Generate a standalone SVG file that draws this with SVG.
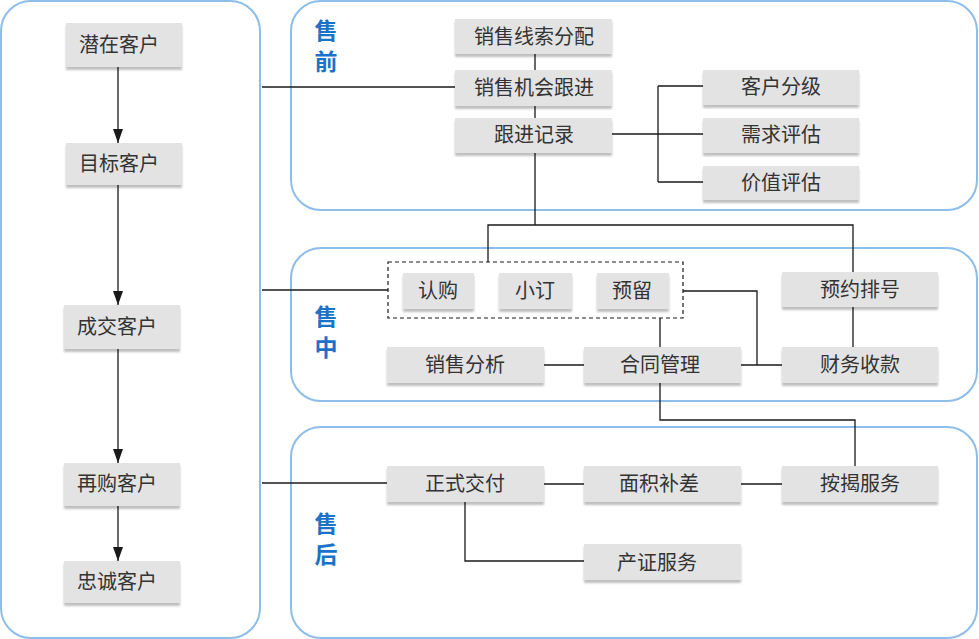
<svg xmlns="http://www.w3.org/2000/svg" width="979" height="639" viewBox="0 0 979 639">
<defs>
<filter id="sh" x="-10%" y="-20%" width="120%" height="150%">
<feDropShadow dx="0" dy="3" stdDeviation="1.2" flood-color="#000" flood-opacity="0.25"/>
</filter>
<marker id="arr" viewBox="0 0 14 10" refX="14" refY="5" markerWidth="14" markerHeight="10" markerUnits="userSpaceOnUse" orient="auto">
<path d="M0,0 L14,5 L0,10 z" fill="#1a1a1a"/>
</marker>
<style>
.panel{fill:#fff;stroke:#8dbde9;stroke-width:2}
.node rect{fill:#e3e3e3;filter:url(#sh)}
.node text{font-family:"Noto Sans CJK SC","Noto Sans",sans-serif;font-size:20px;fill:#333;text-anchor:middle;dominant-baseline:central}
.lbl{font-family:"Noto Sans CJK SC","Noto Sans",sans-serif;font-size:23px;font-weight:bold;fill:#1a73c8;text-anchor:middle;dominant-baseline:central}
.ln{fill:none;stroke:#1a1a1a;stroke-width:1.3}
</style>
</defs>
<rect width="979" height="639" fill="#fff"/>
<g id="panels">
<rect class="panel" x="1" y="1" width="259" height="637" rx="30"/>
<rect class="panel" x="291" y="1" width="686" height="209" rx="30"/>
<rect class="panel" x="291" y="248" width="686" height="153" rx="30"/>
<rect class="panel" x="291" y="427" width="686" height="211" rx="30"/>
<text class="lbl" x="326" y="29">售</text>
<text class="lbl" x="326" y="60">前</text>
<text class="lbl" x="326" y="315">售</text>
<text class="lbl" x="326" y="346">中</text>
<text class="lbl" x="326" y="522">售</text>
<text class="lbl" x="326" y="553">后</text>
</g>
<g id="connectors">
<path class="ln" d="M118,67 V143" marker-end="url(#arr)"/>
<path class="ln" d="M118,185 V305" marker-end="url(#arr)"/>
<path class="ln" d="M118,349 V463" marker-end="url(#arr)"/>
<path class="ln" d="M118,506 V561" marker-end="url(#arr)"/>
<path class="ln" d="M262,87 H455"/>
<path class="ln" d="M262,290 H388"/>
<path class="ln" d="M262,483 H387"/>
<path class="ln" d="M535,54 V70 M535,106 V118 M535,153 V225"/>
<path class="ln" d="M612,134 H703 M658,86 V182 M658,86 H703 M658,182 H703"/>
<path class="ln" d="M488,262 V225 H853 V272"/>
<rect x="388" y="262" width="295" height="56" fill="none" stroke="#1a1a1a" stroke-width="1.2" stroke-dasharray="4,3"/>
<path class="ln" d="M683,291 H757 V365"/>
<path class="ln" d="M544,365 H584 M741,365 H782"/>
<path class="ln" d="M853,307 V347"/>
<path class="ln" d="M660,318 V347"/>
<path class="ln" d="M660,383 V420 H855 V466"/>
<path class="ln" d="M544,484 H584 M741,484 H782"/>
<path class="ln" d="M465,502 V561 H584"/>
</g>
<g id="n-qianzai" class="node"><rect x="66" y="23" width="116" height="44"/><text x="119" y="43">潜在客户</text></g>
<g id="n-mubiao" class="node"><rect x="66" y="143" width="116" height="42"/><text x="119" y="162">目标客户</text></g>
<g id="n-chengjiao" class="node"><rect x="64" y="305" width="116" height="44"/><text x="117" y="325">成交客户</text></g>
<g id="n-zaigou" class="node"><rect x="64" y="463" width="116" height="43"/><text x="117" y="482">再购客户</text></g>
<g id="n-zhongcheng" class="node"><rect x="64" y="561" width="116" height="42"/><text x="117" y="580">忠诚客户</text></g>
<g id="n-xiansuo" class="node"><rect x="455" y="19" width="157" height="35"/><text x="534" y="35.5">销售线索分配</text></g>
<g id="n-jihui" class="node"><rect x="455" y="70" width="157" height="36"/><text x="534" y="86.5">销售机会跟进</text></g>
<g id="n-jilu" class="node"><rect x="455" y="118" width="157" height="35"/><text x="534" y="133.5">跟进记录</text></g>
<g id="n-fenji" class="node"><rect x="703" y="70" width="156" height="35"/><text x="781" y="85.5">客户分级</text></g>
<g id="n-xuqiu" class="node"><rect x="703" y="118" width="156" height="35"/><text x="781" y="133.5">需求评估</text></g>
<g id="n-jiazhi" class="node"><rect x="703" y="166" width="156" height="34"/><text x="781" y="181.5">价值评估</text></g>
<g id="n-rengou" class="node"><rect x="403" y="273" width="71" height="36"/><text x="438" y="289.5">认购</text></g>
<g id="n-xiaoding" class="node"><rect x="499" y="273" width="73" height="36"/><text x="535" y="289.5">小订</text></g>
<g id="n-yuliu" class="node"><rect x="597" y="273" width="72" height="36"/><text x="632" y="289.5">预留</text></g>
<g id="n-paihao" class="node"><rect x="782" y="272" width="156" height="35"/><text x="860" y="288.5">预约排号</text></g>
<g id="n-fenxi" class="node"><rect x="387" y="347" width="157" height="36"/><text x="465" y="363.5">销售分析</text></g>
<g id="n-hetong" class="node"><rect x="584" y="347" width="157" height="36"/><text x="660" y="363.5">合同管理</text></g>
<g id="n-shoukuan" class="node"><rect x="782" y="347" width="156" height="36"/><text x="860" y="363.5">财务收款</text></g>
<g id="n-jiaofu" class="node"><rect x="387" y="466" width="157" height="36"/><text x="465" y="482.5">正式交付</text></g>
<g id="n-buchai" class="node"><rect x="584" y="466" width="157" height="36"/><text x="659" y="482.5">面积补差</text></g>
<g id="n-anjie" class="node"><rect x="782" y="466" width="156" height="36"/><text x="860" y="482.5">按揭服务</text></g>
<g id="n-chanzheng" class="node"><rect x="584" y="544" width="157" height="36"/><text x="657" y="561.5">产证服务</text></g>
</svg>
